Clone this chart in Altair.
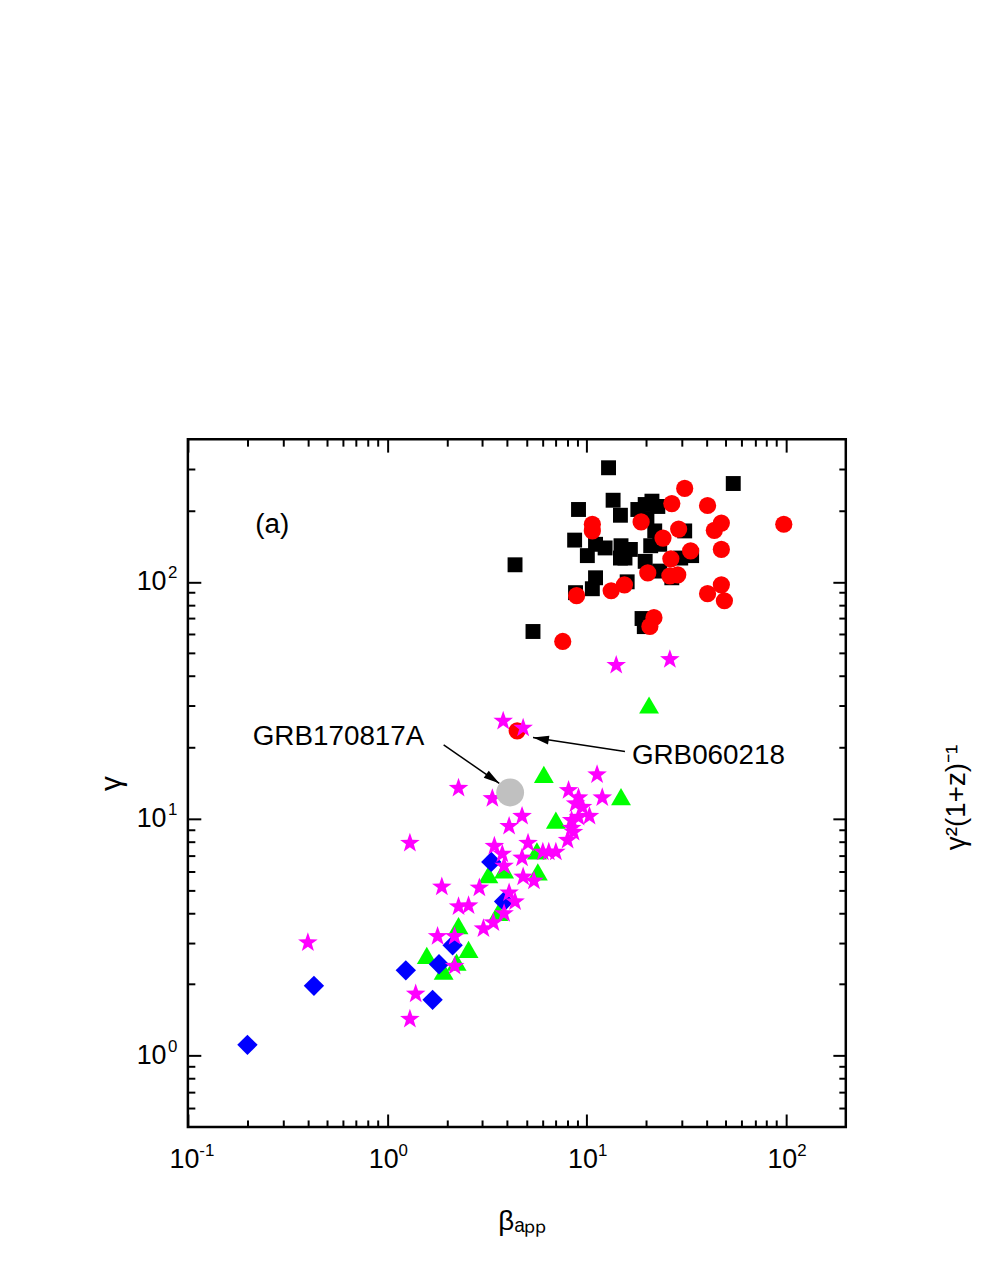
import altair as alt
import pandas as pd

# ---------------- data ----------------
# black squares
sq_x = [12.9, 54.5, 9.12, 13.6, 14.8, 18.1, 19.7, 21.3, 22.8, 20.1, 22.0, 8.72, 11.1, 12.4,
        10.1, 14.9, 16.6, 14.8, 15.6, 4.38, 11.1, 10.7, 16.0, 8.81, 19.7, 23.3, 31.1, 33.7,
        29.7, 23.3, 26.8, 19.0, 19.5, 5.39, 21.0]
sq_y = [303, 260, 202, 221, 191, 202, 212, 219, 208, 184, 164, 150, 144, 139,
        129, 142, 137, 126, 126, 118, 104, 93.5, 100, 90, 122, 144, 164, 129,
        126, 111, 104, 70, 64.7, 61.7, 142]

# red circles
ci_x = [31.1, 26.8, 40.5, 10.7, 10.7, 18.8, 47.5, 43.8, 97.7, 29.0, 24.2, 33.3, 47.5, 26.5,
        20.3, 26.2, 28.7, 15.5, 13.3, 8.92, 47.5, 40.5, 49.2, 21.8, 20.8, 7.6, 4.49]
ci_y = [248, 214, 210, 175, 164, 179, 177, 165, 175, 167, 153, 135, 137, 125,
        109, 106, 107, 97.1, 91.7, 87.4, 97.1, 89.1, 83.2, 70.6, 64.8, 56.0, 23.5]

# green triangles
tr_x = [20.6, 6.11, 14.9, 7.02, 5.64, 3.22, 3.86, 5.70, 3.61, 2.28, 2.56, 1.58, 1.92, 2.23]
tr_y = [30.2, 15.4, 12.4, 9.86, 7.31, 5.80, 6.08, 5.97, 4.02, 3.54, 2.81, 2.65, 2.27, 2.48]

# blue diamonds
di_x = [0.199, 0.429, 1.24, 1.69, 1.82, 2.13, 3.33, 3.86]
di_y = [1.11, 1.97, 2.29, 1.72, 2.43, 2.92, 6.57, 4.47]

# magenta stars
st_x = [14.1, 26.2, 3.82, 4.81, 11.3, 2.28, 3.37, 8.13, 9.12, 8.81, 12.0, 9.55, 4.75, 10.35,
        9.12, 8.42, 4.09, 8.42, 8.04, 1.30, 5.09, 3.45, 3.78, 6.04, 6.47, 7.02, 4.75, 3.86,
        4.81, 5.45, 1.88, 2.90, 4.09, 4.38, 2.28, 2.56, 3.86, 3.41, 3.04, 1.79, 2.18, 0.40,
        2.18, 1.39, 1.30, 8.61]
st_y = [44.9, 47.5, 26.1, 24.4, 15.5, 13.6, 12.3, 13.3, 12.4, 11.7, 12.4, 11.3, 10.35, 10.35,
        10.25, 9.95, 9.39, 9.21, 8.20, 7.97, 7.97, 7.74, 7.17, 7.31, 7.31, 7.31, 6.90, 6.38,
        5.74, 5.52, 5.21, 5.16, 4.92, 4.51, 4.30, 4.34, 4.02, 3.68, 3.47, 3.22, 3.22, 3.03,
        2.41, 1.84, 1.44, 8.87]

# GRB170817A (grey)
gr_x = [4.14]
gr_y = [12.9]

# annotations
ann_text = ["GRB170817A", "GRB060218", "(a)"]
ann_x = [0.570, 40.9, 0.265]
ann_y = [22.2, 18.3, 173]

arrow_x1 = [1.92, 15.6]
arrow_y1 = [20.5, 19.2]
arrow_x2 = [3.65, 5.39]
arrow_y2 = [14.1, 22.0]
arrow_angle = [125, 279]

# axes
x_major = [0.1, 1, 10, 100]
x_major_base = ["10", "10", "10", "10"]
x_major_exp = ["-1", "0", "1", "2"]
x_minor = [0.2, 0.3, 0.4, 0.5, 0.6, 0.7, 0.8, 0.9, 2, 3, 4, 5, 6, 7, 8, 9,
           20, 30, 40, 50, 60, 70, 80, 90]
y_major = [1, 10, 100]
y_major_base = ["10", "10", "10"]
y_major_exp = ["0", "1", "2"]
y_minor = [0.6, 0.7, 0.8, 0.9, 2, 3, 4, 5, 6, 7, 8, 9,
           20, 30, 40, 50, 60, 70, 80, 90, 200, 300]

FONT = "Liberation Sans"
X_SCALE = alt.Scale(type="log", domain=[0.1, 200], nice=False)
Y_SCALE = alt.Scale(type="log", domain=[0.5, 400], nice=False)

STAR = ("M0,-0.9 L0.235,-0.224 L0.951,-0.209 L0.380,0.224 L0.588,0.909 L0,0.5 "
        "L-0.588,0.909 L-0.380,0.224 L-0.951,-0.209 L-0.235,-0.224 Z")
ARROWHEAD = "M0,0 L-0.55,2 L0.55,2 Z"


def label_expr(values, labels):
    s = ""
    for v, l in zip(values, labels):
        s += f"abs(datum.value - {v}) < {v * 0.01} ? '{l}' : "
    return s + "''"


def pts(xs, ys, shape, color, size):
    d = pd.DataFrame({"x": xs, "y": ys})
    return alt.Chart(d).mark_point(shape=shape, filled=True, color=color, size=size,
                                   opacity=1, strokeWidth=0).encode(
        x=alt.X("x:Q", scale=X_SCALE, axis=None),
        y=alt.Y("y:Q", scale=Y_SCALE, axis=None))


ax_df = pd.DataFrame({"x": [1.0], "y": [1.0]})


def axis_layer(xaxis, yaxis):
    return alt.Chart(ax_df).mark_point(opacity=0).encode(
        x=alt.X("x:Q", scale=X_SCALE, axis=xaxis),
        y=alt.Y("y:Q", scale=Y_SCALE, axis=yaxis))


def tick_axis(orient, values, length):
    return alt.Axis(orient=orient, values=values, labels=False, domain=False, grid=False,
                    ticks=True, tickSize=length, tickWidth=2, tickColor="black",
                    offset=-length, title=None)


# main "10" labels (with axis titles)
x_lab = alt.Axis(orient="bottom", values=x_major, labelExpr=label_expr(x_major, x_major_base),
                 ticks=False, domain=False, grid=False, labelFont=FONT, labelFontSize=27,
                 labelColor="black", labelPadding=20, labelOffset=-4, labelFlush=False,
                 labelOverlap=False, labelBaseline="top",
                 title="\u03b2\u2090\u209a\u209a", titleFont=FONT, titleFontSize=28,
                 titleFontWeight="normal", titleColor="black", titleX=336, titleY=95,
                 titleAlign="center", titleBaseline="middle", titleAngle=0)
y_lab = alt.Axis(orient="left", values=y_major, labelExpr=label_expr(y_major, y_major_base),
                 ticks=False, domain=False, grid=False, labelFont=FONT, labelFontSize=27,
                 labelColor="black", labelPadding=22, labelFlush=False,
                 labelOverlap=False,
                 title="\u03b3", titleFont=FONT, titleFontSize=30, titleFontWeight="normal",
                 titleColor="black", titleX=-77, titleY=346, titleAlign="center",
                 titleBaseline="middle", titleAngle=270)
# exponent labels (superscripts)
x_exp = alt.Axis(orient="bottom", values=x_major, labelExpr=label_expr(x_major, x_major_exp),
                 ticks=False, domain=False, grid=False, labelFont=FONT, labelFontSize=17,
                 labelColor="black", labelPadding=16, labelOffset=11,
                 labelAlign="left", labelBaseline="top", labelFlush=False,
                 labelOverlap=False, title=None)
y_exp = alt.Axis(orient="left", values=y_major, labelExpr=label_expr(y_major, y_major_exp),
                 ticks=False, domain=False, grid=False, labelFont=FONT, labelFontSize=17,
                 labelColor="black", labelPadding=11, labelOffset=-9, labelAlign="right",
                 labelFlush=False, labelOverlap=False, title=None)

y_right_title = alt.Axis(orient="right", values=y_minor, labels=False, domain=False, grid=False,
                         ticks=True, tickSize=7, tickWidth=2, tickColor="black", offset=-7,
                         title="\u03b3\u00b2(1+z)\u207b\u00b9", titleFont=FONT, titleFontSize=28,
                         titleFontWeight="normal", titleColor="black", titleX=118, titleY=360,
                         titleAlign="center", titleBaseline="middle", titleAngle=270)

axes_layers = [
    axis_layer(x_lab, y_lab),
    axis_layer(x_exp, y_exp),
    axis_layer(tick_axis("bottom", x_major, 13), tick_axis("left", y_major, 13)),
    axis_layer(tick_axis("bottom", x_minor, 7), tick_axis("left", y_minor, 7)),
    axis_layer(tick_axis("top", x_major, 13), tick_axis("right", y_major, 13)),
    axis_layer(tick_axis("top", x_minor, 7), y_right_title),
]

data_layers = [
    pts(sq_x, sq_y, "square", "#000000", 225),
    pts(ci_x, ci_y, "circle", "#FF0000", 300),
    pts(tr_x, tr_y, "triangle-up", "#00FF00", 400),
    pts(di_x, di_y, "diamond", "#0000FF", 420),
    pts(st_x, st_y, STAR, "#FF00FF", 430),
    pts(gr_x, gr_y, "circle", "#C0C0C0", 784),
]

arr_df = pd.DataFrame({"x1": arrow_x1, "y1": arrow_y1, "x2": arrow_x2, "y2": arrow_y2,
                       "a": arrow_angle})
arrow_lines = alt.Chart(arr_df).mark_rule(color="black", strokeWidth=1.5).encode(
    x=alt.X("x1:Q", scale=X_SCALE, axis=None), y=alt.Y("y1:Q", scale=Y_SCALE, axis=None),
    x2="x2:Q", y2="y2:Q")
arrow_heads = alt.Chart(arr_df).mark_point(shape=ARROWHEAD, filled=True, color="black",
                                           size=256, opacity=1, strokeWidth=0).encode(
    x=alt.X("x2:Q", scale=X_SCALE, axis=None), y=alt.Y("y2:Q", scale=Y_SCALE, axis=None),
    angle=alt.Angle("a:Q", scale=None))

ann_df = pd.DataFrame({"x": ann_x, "y": ann_y, "t": ann_text})
ann = alt.Chart(ann_df).mark_text(font=FONT, fontSize=28, color="black", align="center",
                                  baseline="middle").encode(
    x=alt.X("x:Q", scale=X_SCALE, axis=None), y=alt.Y("y:Q", scale=Y_SCALE, axis=None),
    text="t:N")

chart = alt.layer(*axes_layers, *data_layers, arrow_lines, arrow_heads, ann).resolve_axis(
    x="independent", y="independent"
).properties(
    width=662, height=692,
    autosize=alt.AutoSizeParams(type="none"),
    padding={"left": 181, "top": 430, "right": 128, "bottom": 125},
).configure_view(stroke="black", strokeWidth=2.5)

chart.save("out.html", embed_options={"renderer": "svg", "actions": False})
